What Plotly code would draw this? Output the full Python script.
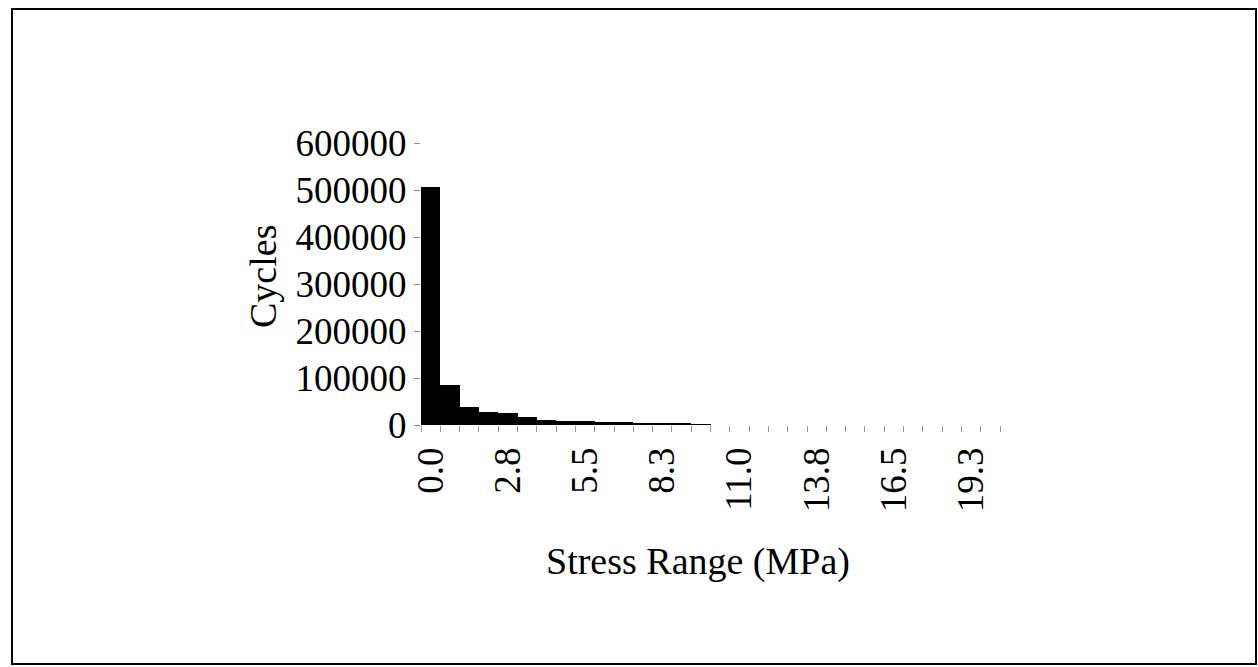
import plotly.graph_objects as go

# Stress range bin labels (MPa), bin width 0.6875
stress_bins = [
    "0.0", "0.7", "1.4", "2.1", "2.8", "3.4", "4.1", "4.8", "5.5", "6.2",
    "6.9", "7.6", "8.3", "8.9", "9.6", "10.3", "11.0", "11.7", "12.4", "13.1",
    "13.8", "14.4", "15.1", "15.8", "16.5", "17.2", "17.9", "18.6", "19.3", "19.9",
]

# Number of cycles counted in each bin
cycles = [
    506000, 85000, 39000, 28500, 25000, 18000, 10500, 9000, 7500, 6500,
    5500, 5000, 4000, 3000, 2000, 0, 0, 0, 0, 0,
    0, 0, 0, 0, 0, 0, 0, 0, 0, 0,
]

y_ticks = [0, 100000, 200000, 300000, 400000, 500000, 600000]

W, H = 1258, 667
ML, MR, MT, MB = 421, 258, 143, 242
PW, PH = W - ML - MR, H - MT - MB

def px_x(px):
    return (px - ML) / PW

def px_y(py):
    return (H - MB - py) / PH

FONT = "Liberation Serif, Times New Roman, serif"
idx = list(range(len(stress_bins)))

fig = go.Figure(
    go.Bar(
        x=idx,
        y=cycles,
        marker=dict(color="black", line=dict(width=0)),
        hovertext=stress_bins,
    )
)

fig.update_layout(
    width=W,
    height=H,
    margin=dict(l=ML, r=MR, t=MT, b=MB),
    paper_bgcolor="white",
    plot_bgcolor="white",
    bargap=0,
    showlegend=False,
    font=dict(family=FONT, color="black", size=37),
)

fig.update_xaxes(
    range=[-0.5, len(stress_bins) - 0.5],
    tickmode="array",
    tickvals=idx[::4],
    ticktext=stress_bins[::4],
    tickangle=-90,
    ticks="",
    ticklabelstandoff=14,
    showgrid=False,
    zeroline=False,
    showline=False,
    tickfont=dict(family=FONT, size=37, color="black"),
    minor=dict(
        tickmode="linear",
        tick0=-0.5,
        dtick=1,
        ticks="outside",
        ticklen=6,
        tickwidth=1,
        tickcolor="#9a9a9a",
        showgrid=False,
    ),
)

fig.update_yaxes(
    range=[0, 600000],
    tickmode="array",
    tickvals=y_ticks,
    ticktext=[str(v) for v in y_ticks],
    ticks="outside",
    ticklen=6,
    tickwidth=1,
    tickcolor="#8a8a8a",
    ticklabelstandoff=0,
    showgrid=False,
    zeroline=False,
    showline=False,
    tickfont=dict(family=FONT, size=37, color="black"),
)

# Axis titles
fig.add_annotation(
    text="Cycles", textangle=-90, showarrow=False,
    xref="paper", yref="paper", x=px_x(263), y=px_y(277),
    xanchor="center", yanchor="middle",
    font=dict(family=FONT, size=38, color="black"),
)
fig.add_annotation(
    text="Stress Range (MPa)", showarrow=False,
    xref="paper", yref="paper", x=px_x(698), y=px_y(561),
    xanchor="center", yanchor="middle",
    font=dict(family=FONT, size=38, color="black"),
)

# Chart frame
fig.add_shape(
    type="rect", xref="paper", yref="paper",
    x0=px_x(12), x1=px_x(1256), y0=px_y(664), y1=px_y(9),
    line=dict(color="black", width=2), fillcolor="rgba(0,0,0,0)",
    layer="below",
)

fig.write_html("out.html")
